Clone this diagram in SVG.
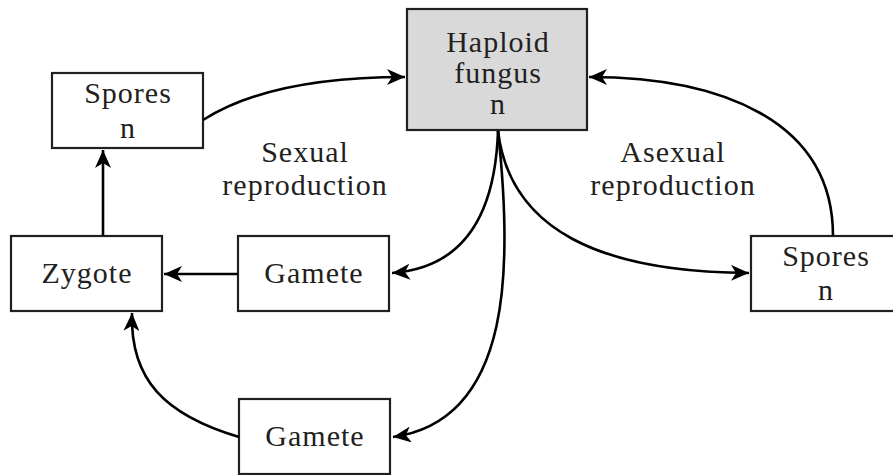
<svg xmlns="http://www.w3.org/2000/svg" width="893" height="475" viewBox="0 0 893 475">
<defs>
<style>
.box{fill:#fff;stroke:#231f20;stroke-width:2.2}
.hap{fill:#d9d9d9;stroke:#231f20;stroke-width:2.2}
text{font-family:"Liberation Serif","Times New Roman",serif;font-size:30px;fill:#231f20;text-anchor:middle;letter-spacing:1px}
.c{fill:none;stroke:#000;stroke-width:2.6;marker-end:url(#ah)}
</style>
<marker id="ah" markerUnits="userSpaceOnUse" markerWidth="20" markerHeight="16" viewBox="0 0 20 16" refX="18" refY="8" orient="auto">
<path d="M0,0 L18,8 L0,16 L5,8 Z" fill="#000"/>
</marker>
</defs>
<rect width="893" height="475" fill="#fff"/>
<g id="haploid">
<rect class="hap" x="407" y="9" width="180" height="121"/>
<text x="498" y="52">Haploid</text>
<text x="498" y="83">fungus</text>
<text x="498" y="114">n</text>
</g>
<g id="spores-left">
<rect class="box" x="52" y="73" width="151" height="75"/>
<text x="128" y="103">Spores</text>
<text x="128" y="138">n</text>
</g>
<g id="zygote">
<rect class="box" x="11" y="236" width="151" height="75"/>
<text x="87" y="283">Zygote</text>
</g>
<g id="gamete1">
<rect class="box" x="238" y="236" width="151" height="75"/>
<text x="314" y="283">Gamete</text>
</g>
<g id="gamete2">
<rect class="box" x="239" y="399" width="151" height="75"/>
<text x="315" y="446">Gamete</text>
</g>
<g id="spores-right">
<rect class="box" x="751" y="236" width="160" height="75"/>
<text x="826" y="266">Spores</text>
<text x="826" y="300">n</text>
</g>
<g id="label-sexual">
<text x="305" y="162">Sexual</text>
<text x="305" y="195">reproduction</text>
</g>
<g id="label-asexual">
<text x="673" y="162">Asexual</text>
<text x="673" y="195">reproduction</text>
</g>
<g id="connectors">
<path class="c" d="M203,120 C250,90 320,77 405,77"/>
<path class="c" d="M103,236 L103,150"/>
<path class="c" d="M238,274 L164,274"/>
<path class="c" d="M239,437 C165,415 130,380 132,313"/>
<path class="c" d="M498,131 C495,220 460,268 392,273"/>
<path class="c" d="M498,131 C512,260 515,420 393,437"/>
<path class="c" d="M498,131 C510,230 600,272 749,273"/>
<path class="c" d="M833,236 C833,120 720,77 589,77"/>
</g>
</svg>
